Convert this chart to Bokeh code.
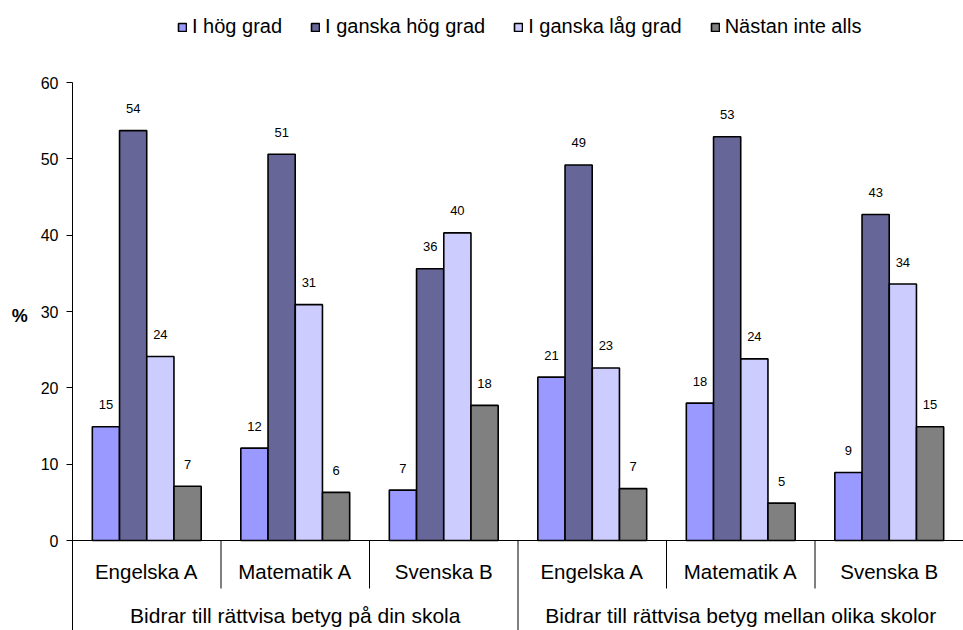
from bokeh.plotting import figure
from bokeh.models import (FactorRange, ColumnDataSource, Legend, LegendItem,
                          Span, FixedTicker)
from bokeh.transform import dodge
from bokeh.core.properties import value
from bokeh.embed import file_html
from bokeh.resources import INLINE

# ---- data -------------------------------------------------------------
groups = ["Bidrar till rättvisa betyg på din skola",
          "Bidrar till rättvisa betyg mellan olika skolor"]
subjects = ["Engelska A", "Matematik A", "Svenska B"]
series = ["I hög grad", "I ganska hög grad", "I ganska låg grad", "Nästan inte alls"]

i_hog_grad = [14.9, 12.1, 6.6, 21.4, 18.0, 8.9]
i_ganska_hog_grad = [53.7, 50.6, 35.6, 49.2, 52.9, 42.7]
i_ganska_lag_grad = [24.1, 30.9, 40.3, 22.6, 23.8, 33.6]
nastan_inte_alls = [7.1, 6.3, 17.7, 6.8, 4.9, 14.9]
y_ticks = [0, 10, 20, 30, 40, 50, 60]

# ---- styling ----------------------------------------------------------
colors = ["#9999FF", "#666699", "#CCCCFF", "#808080"]
FONT = "Liberation Sans"
bar_w = 0.183
offsets = [-0.275, -0.0917, 0.0917, 0.275]
px_per_unit = 458 / 60.0
y_min = -90 / px_per_unit
y_top = 60 + 82 / px_per_unit

factors = [(g, s) for g in groups for s in subjects]
cols = ["s0", "s1", "s2", "s3"]
vals = [i_hog_grad, i_ganska_hog_grad, i_ganska_lag_grad, nastan_inte_alls]

data = {"x": factors}
for c, v in zip(cols, vals):
    data[c] = v
    data[c + "_lbl"] = [str(int(a + 0.5)) for a in v]
src = ColumnDataSource(data)

x_range = FactorRange(*factors, factor_padding=0, group_padding=0,
                      subgroup_padding=0, range_padding=0)

p = figure(width=963, height=630, x_range=x_range, y_range=(y_min, y_top),
           output_backend="svg", toolbar_location=None, x_axis_location=None,
           min_border_left=72, min_border_right=0, min_border_top=0,
           min_border_bottom=0)
p.outline_line_color = None
p.xgrid.visible = False
p.ygrid.visible = False
p.background_fill_color = "white"

renderers = []
for c, off, col in zip(cols, offsets, colors):
    r = p.vbar(x=dodge("x", off, range=p.x_range), top=c, width=bar_w,
               source=src, fill_color=col, line_color="black", line_width=1.6)
    renderers.append(r)
    p.text(x=dodge("x", off, range=p.x_range), y=c, text=c + "_lbl", source=src,
           text_font=value(FONT), text_font_size="13px", text_align="center",
           text_baseline="alphabetic", y_offset=-22, text_color="black")

# x axis line at 0
p.add_layout(Span(location=0, dimension="width", line_color="black", line_width=1))

# category labels
cat_src = ColumnDataSource({"x": factors, "t": [f[1] for f in factors],
                            "y": [0] * len(factors)})
p.text(x="x", y="y", text="t", source=cat_src, text_font=value(FONT),
       text_font_size="20.5px", text_align="center", text_baseline="alphabetic",
       y_offset=31, text_color="black")

grp_src = ColumnDataSource({"x": [(g, subjects[1]) for g in groups], "t": groups,
                            "y": [0] * len(groups)})
p.text(x="x", y="y", text="t", source=grp_src, text_font=value(FONT),
       text_font_size="21px", text_align="center", text_baseline="alphabetic",
       y_offset=75, text_color="black")

# separators
short_src = ColumnDataSource({"x": [(g, s) for g in groups for s in subjects[:2]]})
p.segment(x0=dodge("x", 0.5, range=p.x_range), y0=0,
          x1=dodge("x", 0.5, range=p.x_range), y1=-48 / px_per_unit,
          source=short_src, line_color="black", line_width=1)
long_src = ColumnDataSource({"x": [(groups[0], subjects[2])]})
p.segment(x0=dodge("x", 0.5, range=p.x_range), y0=0,
          x1=dodge("x", 0.5, range=p.x_range), y1=y_min,
          source=long_src, line_color="black", line_width=1)

# y axis
yax = p.yaxis[0]
yax.ticker = FixedTicker(ticks=y_ticks)
yax.bounds = (y_min, 60)
yax.minor_tick_line_color = None
yax.major_tick_in = 0
yax.major_tick_out = 6
yax.major_label_standoff = 8
yax.axis_line_color = "black"
yax.major_tick_line_color = "black"
yax.major_label_text_font = FONT
yax.major_label_text_font_size = "16px"
yax.major_label_text_color = "black"
yax.axis_label = "%"
yax.axis_label_orientation = "horizontal"
yax.axis_label_text_font = FONT
yax.axis_label_text_font_size = "18px"
yax.axis_label_text_font_style = "bold"
yax.axis_label_text_color = "black"
yax.axis_label_standoff = 10

legend = Legend(items=[LegendItem(label=s, renderers=[r]) for s, r in zip(series, renderers)],
                orientation="horizontal", location=(105, 592),
                glyph_width=10, glyph_height=10, label_standoff=5, spacing=28,
                padding=0, margin=0, border_line_color=None,
                background_fill_alpha=0, label_text_font=FONT,
                label_text_font_size="20px", label_text_color="black",
                label_height=22)
p.add_layout(legend)

open("out.html", "w").write(file_html(p, INLINE))
